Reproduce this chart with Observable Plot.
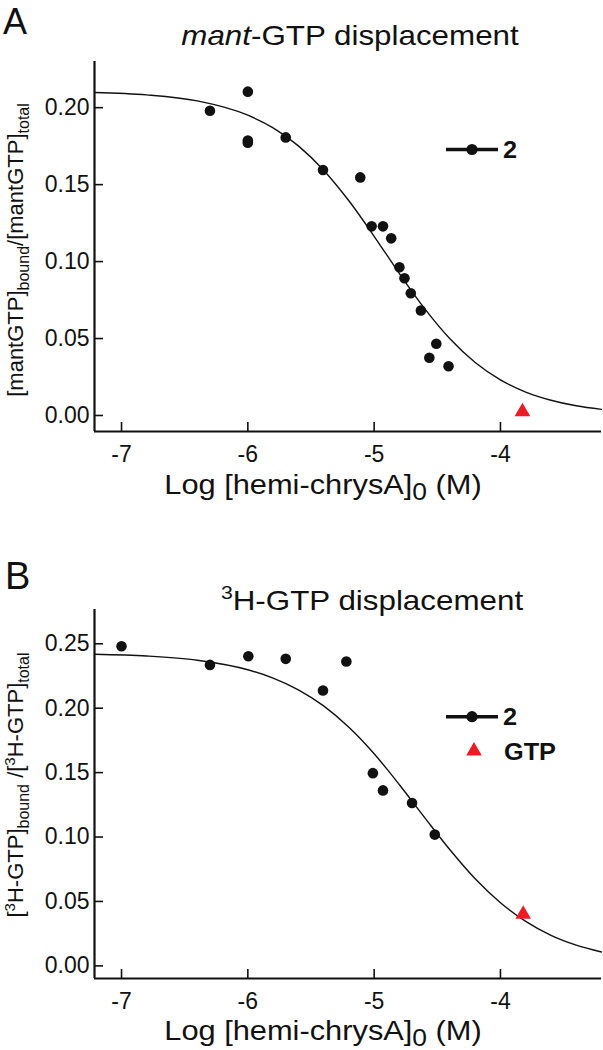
<!DOCTYPE html>
<html><head><meta charset="utf-8">
<script src="https://cdn.jsdelivr.net/npm/d3@7"></script>
<script src="https://cdn.jsdelivr.net/npm/@observablehq/plot@0.6"></script>
<style>
body{margin:0;background:#fff;}
#page{position:relative;width:603px;height:1050px;overflow:hidden;font-family:"Liberation Sans",Arial,sans-serif;}
#page svg{position:absolute;left:0;}
</style></head><body><div id="page"></div>
<script>
// ---------- data ----------
const xTicks = [-7, -6, -5, -4];
const yTicksA = [0.00, 0.05, 0.10, 0.15, 0.20];
const yTicksB = [0.00, 0.05, 0.10, 0.15, 0.20, 0.25];

// Panel A: mant-GTP displacement, compound 2
const logConcA = [-6.30, -6.00, -6.00, -6.00, -5.70, -5.405, -5.11, -5.02, -4.93, -4.865, -4.80, -4.76, -4.71, -4.63, -4.508, -4.563, -4.411];
const boundA   = [0.198, 0.2104, 0.1786, 0.1772, 0.1807, 0.1595, 0.1547, 0.1229, 0.1229, 0.1151, 0.0963, 0.0892, 0.0794, 0.0682, 0.0466, 0.0375, 0.0320];
const gtpXA = [-3.826];
const gtpYA = [0.0025];
// fitted curve A
const curveXA = [-7.214, -6.8, -6.4, -6.0, -5.8, -5.6, -5.4, -5.2, -5.0, -4.9, -4.8, -4.6, -4.4, -4.2, -4.0, -3.8, -3.6, -3.4, -3.2];
const curveYA = [0.2099, 0.2083, 0.2044, 0.1951, 0.1869, 0.1752, 0.1594, 0.1395, 0.1164, 0.1043, 0.0922, 0.0694, 0.0498, 0.0344, 0.0231, 0.0152, 0.0099, 0.0063, 0.0040];

// Panel B: 3H-GTP displacement
const logConcB = [-7.00, -6.30, -5.996, -5.70, -5.405, -5.22, -5.01, -4.93, -4.70, -4.52];
const boundB   = [0.2481, 0.2336, 0.2403, 0.2383, 0.2137, 0.2362, 0.1496, 0.1362, 0.1264, 0.1019];
const gtpXB = [-3.82];
const gtpYB = [0.040];
const curveXB = [-7.214, -6.8, -6.4, -6.0, -5.8, -5.6, -5.4, -5.2, -5.0, -4.9, -4.8, -4.6, -4.4, -4.2, -4.0, -3.8, -3.6, -3.4, -3.2];
const curveYB = [0.2419, 0.2405, 0.2372, 0.2298, 0.2234, 0.2143, 0.2018, 0.1852, 0.1646, 0.1529, 0.1406, 0.1151, 0.0901, 0.0676, 0.0490, 0.0345, 0.0237, 0.0161, 0.0108];

const RED = "#ED1C24";
const INK = "#111";

function panel({top, height, mt, mb, yDomain, yTicks, px, py, cx, cy, gx, gy}) {
  const W = 603, ml = 94, mr = 2;
  const xDomain = [-7.214, -3.2];
  const innerH = height - mt - mb, innerW = W - ml - mr;
  const pts = px.map((x, i) => ({x, y: py[i]}));
  const crv = cx.map((x, i) => ({x, y: cy[i]}));
  const gtp = gx.map((x, i) => ({x, y: gy[i]}));
  const svg = Plot.plot({
    width: W, height, marginTop: mt, marginBottom: mb, marginLeft: ml, marginRight: mr,
    x: {domain: xDomain},
    y: {domain: yDomain},
    style: {fontFamily: "'Liberation Sans', Arial, sans-serif", fontSize: "23px", color: INK, background: "transparent", overflow: "visible"},
    marks: [
      Plot.axisX(xTicks, {tickSize: 0, tickPadding: 14, label: null, tickFormat: d => String(d), fontSize: 23}),
      Plot.axisY(yTicks, {tickSize: 0, tickPadding: 5, label: null, tickFormat: d3.format(".2f"), fontSize: 23}),
      Plot.tickX(xTicks, {x: d => d, insetTop: innerH - 9, stroke: INK, strokeWidth: 1.6}),
      Plot.tickY(yTicks, {y: d => d, insetRight: innerW - 9, stroke: INK, strokeWidth: 1.6}),
      Plot.ruleX([xDomain[0]], {stroke: INK, strokeWidth: 2.2}),
      Plot.ruleY([yDomain[0]], {stroke: INK, strokeWidth: 2.2}),
      Plot.line(crv, {x: "x", y: "y", curve: "monotone-x", stroke: INK, strokeWidth: 1.4}),
      Plot.dot(pts, {x: "x", y: "y", r: 5.3, fill: INK, stroke: "none"}),
      Plot.dot(gtp, {x: "x", y: "y", symbol: "triangle", r: 5.8, fill: RED, stroke: "none"})
    ]
  });
  svg.style.top = top + "px";
  return svg;
}

const page = document.getElementById("page");
page.appendChild(panel({top: 0, height: 500, mt: 61, mb: 69, yDomain: [-0.0104, 0.23], yTicks: yTicksA,
  px: logConcA, py: boundA, cx: curveXA, cy: curveYA, gx: gtpXA, gy: gtpYA}));
page.appendChild(panel({top: 500, height: 550, mt: 109, mb: 72, yDomain: [-0.0098, 0.2766], yTicks: yTicksB,
  px: logConcB, py: boundB, cx: curveXB, cy: curveYB, gx: gtpXB, gy: gtpYB}));

// ---------- overlay text & legends ----------
const ov = d3.create("svg").attr("width", 603).attr("height", 1050)
  .style("top", "0px").style("pointer-events", "none")
  .style("font-family", "'Liberation Sans', Arial, sans-serif").attr("fill", INK);

function txt(x, y, size, anchor, sx, rot) {
  let tr = `translate(${x},${y})`;
  if (rot) tr += ` rotate(${rot})`;
  if (sx) tr += ` scale(${sx},1)`;
  return ov.append("text").attr("transform", tr).attr("font-size", size).attr("text-anchor", anchor);
}

// panel letters
txt(3, 34, 36, "start").text("A");
txt(5, 589, 38, "start").text("B");

// titles
let t = txt(350, 45, 28, "middle", 1.12);
t.append("tspan").attr("font-style", "italic").text("mant");
t.append("tspan").text("-GTP displacement");
t = txt(372, 610, 28, "middle", 1.12);
t.append("tspan").attr("font-size", 19).attr("dy", -11).text("3");
t.append("tspan").attr("dy", 11).text("H-GTP displacement");

// x-axis titles
for (const by of [494, 1040]) {
  t = txt(323, by, 28, "middle", 1.1);
  t.append("tspan").text("Log [hemi-chrysA]");
  t.append("tspan").attr("font-size", 24).attr("dy", 6).text("0");
  t.append("tspan").attr("dy", -6).text(" (M)");
}

// y-axis titles
t = txt(23, 250, 22, "middle", null, -90);
t.append("tspan").text("[mantGTP]");
t.append("tspan").attr("font-size", 16).attr("dy", 6).text("bound");
t.append("tspan").attr("dy", -6).text("/[mantGTP]");
t.append("tspan").attr("font-size", 16).attr("dy", 6).text("total");

t = txt(23, 785, 22, "middle", null, -90);
t.append("tspan").text("[");
t.append("tspan").attr("font-size", 15).attr("dy", -8).text("3");
t.append("tspan").attr("dy", 8).text("H-GTP]");
t.append("tspan").attr("font-size", 16).attr("dy", 6).text("bound");
t.append("tspan").attr("dy", -6).text(" /[");
t.append("tspan").attr("font-size", 15).attr("dy", -8).text("3");
t.append("tspan").attr("dy", 8).text("H-GTP]");
t.append("tspan").attr("font-size", 16).attr("dy", 6).text("total");

// legends
function legLine(y) {
  ov.append("line").attr("x1", 446).attr("x2", 498).attr("y1", y).attr("y2", y).attr("stroke", INK).attr("stroke-width", 3.6);
  ov.append("circle").attr("cx", 472).attr("cy", y).attr("r", 5.6).attr("fill", INK);
}
legLine(149.5);
txt(503, 158, 23, "start", 1.1).attr("font-weight", "bold").text("2");
legLine(716.7);
txt(503, 725, 23, "start", 1.1).attr("font-weight", "bold").text("2");
ov.append("path").attr("d", d3.symbol(d3.symbolTriangle, Math.PI * 5.8 * 5.8)()).attr("transform", "translate(474,751)").attr("fill", RED);
txt(504, 760, 23, "start", 1.1).attr("font-weight", "bold").text("GTP");

page.appendChild(ov.node());
</script></body></html>
